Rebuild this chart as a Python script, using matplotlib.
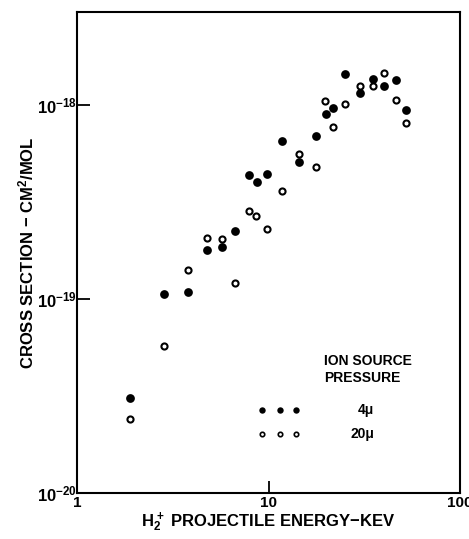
import matplotlib
matplotlib.use('Agg')
import matplotlib.pyplot as plt

# fonts: bold helvetica-like for everything, mathtext too
plt.rcParams['font.family'] = ['Liberation Sans', 'DejaVu Sans']
plt.rcParams['font.weight'] = 'bold'
plt.rcParams['axes.labelweight'] = 'bold'
plt.rcParams['mathtext.fontset'] = 'custom'
plt.rcParams['mathtext.rm'] = 'Liberation Sans:bold'
plt.rcParams['mathtext.it'] = 'Liberation Sans:bold'
plt.rcParams['mathtext.bf'] = 'Liberation Sans:bold'

# 4 micron ion source pressure (filled)
energy_4 = [1.9, 2.85, 3.8, 4.8, 5.7, 6.7, 7.9, 8.75, 9.8, 11.8,
            14.5, 17.8, 20.0, 21.8, 25.0, 30.0, 35.0, 40.0, 46.5, 52.0]
sigma_4 = [3.1e-20, 1.06e-19, 1.09e-19, 1.78e-19, 1.86e-19, 2.25e-19, 4.35e-19, 4.0e-19, 4.4e-19, 6.55e-19,
           5.1e-19, 6.95e-19, 9.0e-19, 9.7e-19, 1.44e-18, 1.15e-18, 1.36e-18, 1.25e-18, 1.34e-18, 9.4e-19]

# 20 micron ion source pressure (open)
energy_20 = [1.9, 2.85, 3.8, 4.75, 5.7, 6.7, 7.9, 8.65, 9.8, 11.8,
             14.5, 17.8, 19.8, 21.8, 25.0, 30.0, 35.0, 40.0, 46.5, 52.0]
sigma_20 = [2.4e-20, 5.75e-20, 1.41e-19, 2.07e-19, 2.05e-19, 1.21e-19, 2.84e-19, 2.68e-19, 2.3e-19, 3.6e-19,
            5.6e-19, 4.77e-19, 1.05e-18, 7.7e-19, 1.01e-18, 1.25e-18, 1.25e-18, 1.47e-18, 1.06e-18, 8.1e-19]

x_ticks = [1, 10, 100]
x_labels = ['1', '10', '100']
y_ticks = [1e-20, 1e-19, 1e-18]
y_labels = ['$10^{-20}$', '$10^{-19}$', '$10^{-18}$']

fig = plt.figure(figsize=(4.69, 5.39), dpi=100)
ax = fig.add_axes([0.164, 0.085, 0.817, 0.892])

ax.plot(energy_4, sigma_4, 'o', color='black', ms=6.3, mew=0)
ax.plot(energy_20, sigma_20, 'o', mfc='white', mec='black', ms=4.4, mew=1.5)

ax.set_xscale('log')
ax.set_yscale('log')
ax.set_xlim(1, 100)
ax.set_ylim(1e-20, 3e-18)

ax.set_xticks(x_ticks)
ax.set_xticklabels(x_labels, fontsize=11)
ax.set_yticks(y_ticks)
ax.set_yticklabels(y_labels, fontsize=12)
ax.minorticks_off()
ax.tick_params(direction='in', length=9, width=1.3, pad=2)
ax.tick_params(axis='y', pad=0)

for s in ax.spines.values():
    s.set_linewidth(1.5)

ax.set_xlabel('$H_2^+$ PROJECTILE ENERGY$-$KEV', fontsize=12, labelpad=0)
ax.set_ylabel('CROSS SECTION $-$ CM$^2$/MOL', fontsize=12, labelpad=0)

# legend drawn by hand, three markers per row
ax.text(0.646, 0.29, 'ION SOURCE\nPRESSURE', transform=ax.transAxes,
        fontsize=10, va='top', ha='left', linespacing=1.3)
ax.plot([0.484, 0.529, 0.572], [0.173] * 3, 'o', color='black', ms=4.6, mew=0,
        transform=ax.transAxes)
ax.plot([0.484, 0.529, 0.572], [0.123] * 3, 'o', mfc='white', mec='black', ms=3.2, mew=1.2,
        transform=ax.transAxes)
ax.text(0.776, 0.173, '4\u03bc', transform=ax.transAxes, fontsize=10, va='center', ha='right')
ax.text(0.776, 0.123, '20\u03bc', transform=ax.transAxes, fontsize=10, va='center', ha='right')

plt.savefig('out.png', dpi=100)
